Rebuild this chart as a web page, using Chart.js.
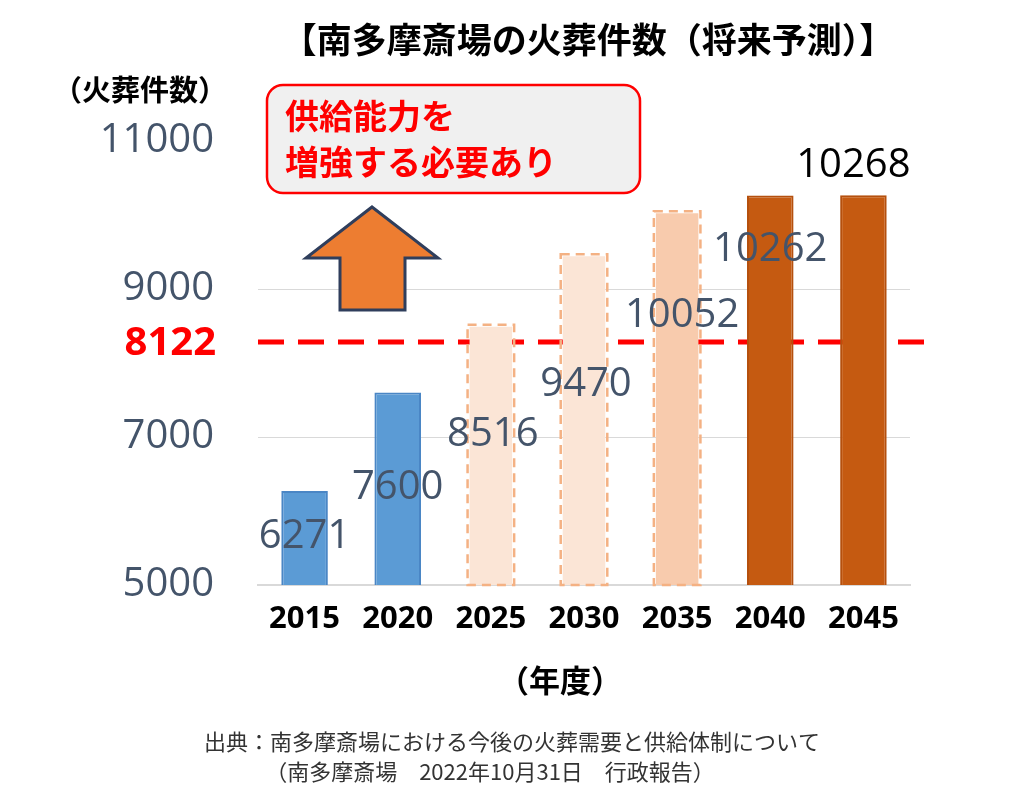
<!DOCTYPE html>
<html><head><meta charset="utf-8">
<script src="https://cdn.jsdelivr.net/npm/chart.js@4"></script>
<style>html,body{margin:0;padding:0;background:#fff}#w{width:1024px;height:806px}</style>
</head><body><div id="w"><canvas id="c"></canvas></div>
<script>
const years = ['2015','2020','2025','2030','2035','2040','2045'];
const cremations = [6271, 7600, 8516, 9470, 10052, 10262, 10268];
const capacity = 8122;
const yTicks = [5000, 7000, 9000, 11000];
const fills = ['#5B9BD5','#5B9BD5','#FBE5D6','#FBE5D6','#F8CBAD','#C55A11','#C55A11'];
const borders = ['#5B9BD5','#5B9BD5','#F4B183','#F4B183','#F4B183','#C55A11','#C55A11'];
const dashed = [false,false,true,true,true,false,false];
const F = '"Noto Sans CJK JP","Noto Sans",sans-serif';
const NF = '"Open Sans","Noto Sans",sans-serif';

const extras = {
  id:'extras',
  beforeDatasetsDraw(ch){
    const ctx=ch.ctx, y=ch.scales.y;
    const yy=y.getPixelForValue(capacity);
    ctx.save();
    ctx.strokeStyle='#FF0000'; ctx.lineWidth=5; ctx.setLineDash([26,14]);
    ctx.beginPath(); ctx.moveTo(258,yy-12); ctx.lineTo(938,yy-12); ctx.stroke();
    ctx.restore();
  },
  afterDatasetsDraw(ch){
    const ctx=ch.ctx, y=ch.scales.y;
    const meta=ch.getDatasetMeta(0);
    const base=y.getPixelForValue(5000);
    ctx.save();
    meta.data.forEach((b,i)=>{
      if(!dashed[i]) return;
      ctx.strokeStyle=borders[i]; ctx.lineWidth=2.5; ctx.setLineDash([9,6]);
      ctx.strokeRect(b.x-b.width/2, b.y, b.width, base-b.y);
    });
    ctx.setLineDash([]);
    const offs=[[0,46],[0,95],[2,110],[2,130],[5,104],[0,54],[-10,-30]];
    ctx.font='40px '+NF; ctx.textAlign='center'; ctx.textBaseline='middle';
    meta.data.forEach((b,i)=>{
      ctx.fillStyle = i===6 ? '#000' : '#44546A';
      ctx.fillText(String(cremations[i]), b.x+offs[i][0], b.y+offs[i][1]);
    });
    ctx.fillStyle='#FF0000'; ctx.font='bold 40px '+NF; ctx.textAlign='right';
    ctx.fillText(String(capacity), 216, y.getPixelForValue(capacity)-10);
    ctx.fillStyle='#000'; ctx.textAlign='center';
    ctx.font='bold 35px '+F;
    ctx.fillText('【南多摩斎場の火葬件数（将来予測）】', 588, 40);
    ctx.font='bold 29px '+F;
    ctx.fillText('（火葬件数）', 140, 90);
    ctx.font='bold 31px '+F;
    ctx.fillText('（年度）', 560, 680);
    ctx.font='22px '+F; ctx.fillStyle='#333';
    ctx.fillText('出典：南多摩斎場における今後の火葬需要と供給体制について', 512, 742);
    ctx.fillText('（南多摩斎場　2022年10月31日　行政報告）', 490, 772);
    ctx.beginPath(); ctx.roundRect(267,85,373,108,16);
    ctx.fillStyle='#F0F0F0'; ctx.fill(); ctx.strokeStyle='#FF0000'; ctx.lineWidth=2.5; ctx.stroke();
    ctx.fillStyle='#FF0000'; ctx.font='bold 34px '+F; ctx.textAlign='left';
    ctx.fillText('供給能力を', 285, 116); ctx.fillText('増強する必要あり', 285, 162);
    ctx.beginPath();
    ctx.moveTo(372,207); ctx.lineTo(438,258); ctx.lineTo(405,258); ctx.lineTo(405,310);
    ctx.lineTo(340,310); ctx.lineTo(340,258); ctx.lineTo(306,258); ctx.closePath();
    ctx.fillStyle='#ED7D31'; ctx.fill(); ctx.strokeStyle='#2F3E5C'; ctx.lineWidth=3; ctx.stroke();
    ctx.restore();
  }
};

new Chart(document.getElementById('c'),{
  type:'bar',
  data:{labels:years,datasets:[{data:cremations,backgroundColor:fills,
    borderColor:borders.map((c,i)=>dashed[i]?'rgba(0,0,0,0)':(i<2?'#4A86C5':'#B5500E')),
    borderWidth:2,barPercentage:0.5,categoryPercentage:1}]},
  options:{responsive:true,maintainAspectRatio:false,animation:false,
    layout:{padding:{top:141,right:114,left:0,bottom:0}},
    plugins:{legend:{display:false},tooltip:{enabled:false}},
    scales:{
      x:{grid:{display:false},border:{color:'#D9D9D9',width:2},
         ticks:{color:'#000',font:{family:NF,size:31,weight:'bold'},padding:8},
         afterFit(s){s.height=221;}},
      y:{min:5000,max:11000,afterBuildTicks(s){s.ticks=yTicks.map(v=>({value:v}));},
         grid:{color:c=>c.tick.value===11000?'rgba(0,0,0,0)':'#D9D9D9',drawTicks:false},
         border:{display:false},
         ticks:{color:'#44546A',font:{family:NF,size:40},padding:44,callback:v=>String(v)},
         afterFit(s){s.width=258;}}
    }},
  plugins:[extras]
});
</script></body></html>
